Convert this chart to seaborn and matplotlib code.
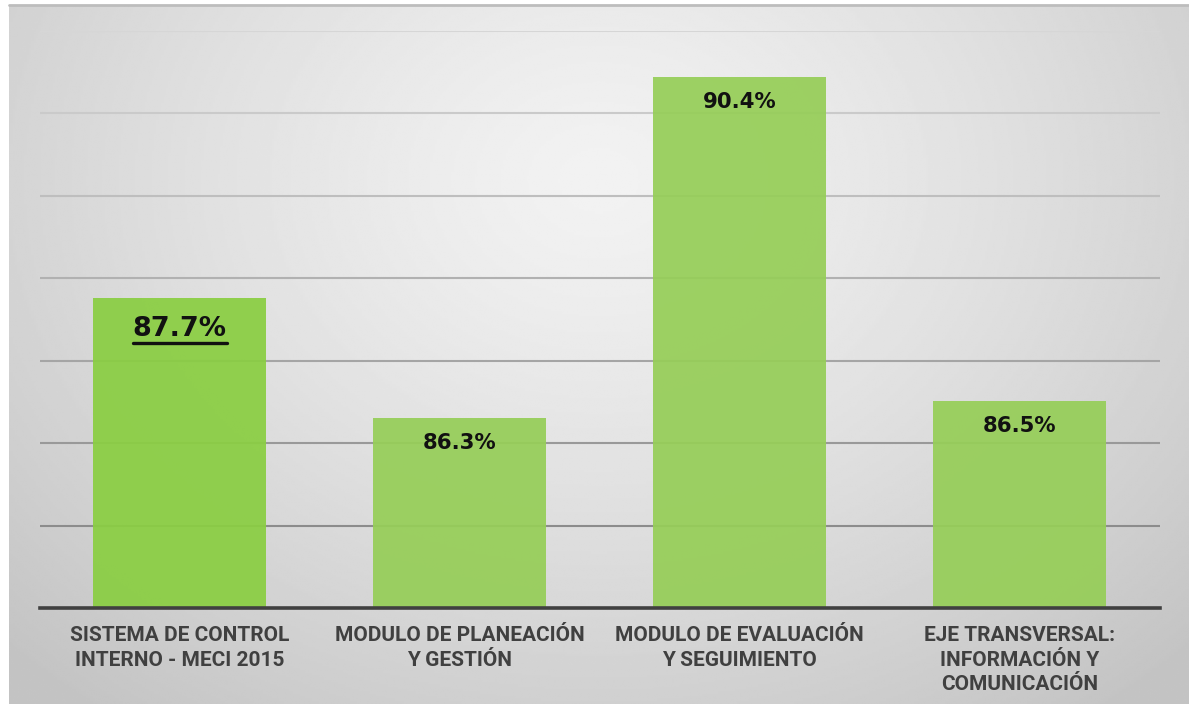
import numpy as np
import pandas as pd
import matplotlib
matplotlib.use("Agg")
import matplotlib.pyplot as plt
import seaborn as sns

categories = [
    "SISTEMA DE CONTROL\nINTERNO - MECI 2015",
    "MODULO DE PLANEACIÓN\nY GESTIÓN",
    "MODULO DE EVALUACIÓN\nY SEGUIMIENTO",
    "EJE TRANSVERSAL:\nINFORMACIÓN Y\nCOMUNICACIÓN",
]
# bar heights, labels as printed
values = [87.76, 86.31, 90.44, 86.51]
labels = ["87.7%", "86.3%", "90.4%", "86.5%"]
bar_colors = ["#8ACE42", "#96CE58", "#96CE58", "#96CE58"]

df = pd.DataFrame({"cat": categories, "val": values})

sns.set_theme(style="white")
plt.rcParams["font.family"] = ["Roboto", "DejaVu Sans"]

fig = plt.figure(figsize=(11.89, 7.04), dpi=100)
fig.patch.set_facecolor("white")

# background panel with radial gray gradient
bg = fig.add_axes([9 / 1189, 0, 1 - 9 / 1189, 699 / 704])
yy, xx = np.mgrid[0:1:300j, 0:1:500j]
r = np.sqrt(((xx - 0.5) / 0.7) ** 2 + ((yy - 0.25) / 0.95) ** 2)
img = 242 - 46 * np.clip(r, 0, 1) ** 1.3
bg.imshow(img, cmap="gray", vmin=0, vmax=255, aspect="auto",
          extent=[0, 1, 1, 0], interpolation="bilinear")
bg.set_axis_off()
fig.add_artist(plt.Line2D([9 / 1189, 1], [699 / 704, 699 / 704],
                          color="#BDBDBD", lw=2, transform=fig.transFigure))

ax = fig.add_axes([39.5 / 1189, 96 / 704, 1120 / 1189, 577 / 704])
ax.patch.set_alpha(0)

ticks = np.arange(85, 92, 1)
shades = np.linspace(0.55, 0.84, len(ticks))
for t, s in zip(ticks, shades):
    ax.axhline(t, color=str(s), lw=1.5, zorder=0)

sns.barplot(data=df, x="cat", y="val", hue="cat", palette=bar_colors,
            width=0.62, legend=False, ax=ax, alpha=0.93, zorder=2,
            saturation=1, linewidth=0, edgecolor="none")
ax.set_xlim(-0.5, 3.5)
ax.set_ylim(84, 91)

for s in ["top", "right", "left"]:
    ax.spines[s].set_visible(False)
ax.spines["bottom"].set_color("#404040")
ax.spines["bottom"].set_linewidth(2.6)
ax.spines["bottom"].set_zorder(3)
ax.set_yticks([])
ax.set_xlabel("")
ax.set_ylabel("")
ax.tick_params(axis="x", length=0, pad=13)
for lab in ax.get_xticklabels():
    lab.set_fontsize(15)
    lab.set_fontweight("bold")
    lab.set_color("#404040")
    lab.set_linespacing(1.38)
    lab.set_ha("center")

texts = []
for i, (v, l) in enumerate(zip(values, labels)):
    big = i == 0
    t = ax.annotate(l, (i, v), xytext=(0, -31 if big else -25),
                    textcoords="offset pixels", ha="center", va="center",
                    fontsize=19.5 if big else 15.3, fontweight="bold",
                    color="#111111", family="DejaVu Sans", zorder=4)
    texts.append(t)

# underline the first label
fig.canvas.draw()
bb = texts[0].get_window_extent().transformed(fig.transFigure.inverted())
fig.add_artist(plt.Line2D([bb.x0, bb.x1], [bb.y0 - 0.002, bb.y0 - 0.002],
                          color="#111111", lw=2.4, transform=fig.transFigure,
                          zorder=5))

fig.savefig("out.png", dpi=100)
